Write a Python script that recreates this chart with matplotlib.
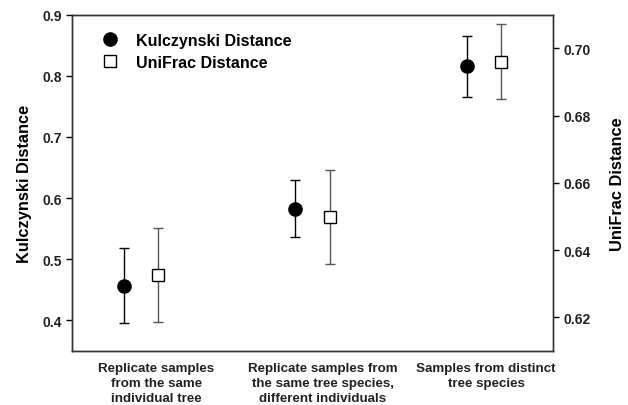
import numpy as np
import matplotlib.pyplot as plt

plt.rcParams['font.family'] = ['Liberation Sans', 'DejaVu Sans']
plt.rcParams['font.weight'] = 'bold'

# groups along the x axis
groups = ["Replicate samples\nfrom the same\nindividual tree",
          "Replicate samples from\nthe same tree species,\ndifferent individuals",
          "Samples from distinct\ntree species"]
group_pos = np.array([1, 2, 3])
label_pos = [1.09, 2.06, 3.01]

# Kulczynski distance (left axis)
kul_mean = [0.457, 0.583, 0.816]
kul_err = [0.061, 0.047, 0.050]

# UniFrac distance (right axis)
uni_mean = [0.6326, 0.6498, 0.6960]
uni_err = [0.0141, 0.0140, 0.0112]

fig = plt.figure(figsize=(6.28, 4.06), dpi=100)
ax = fig.add_axes([0.1146, 0.133, 0.766, 0.8283])
ax2 = ax.twinx()

ax.errorbar(group_pos - 0.1, kul_mean, yerr=kul_err, fmt='o', color='black',
            ms=9.5, ecolor='black', elinewidth=1, capsize=3.8, capthick=1)
ax2.errorbar(group_pos + 0.1, uni_mean, yerr=uni_err, fmt='s', mfc='white',
             mec='black', mew=1, ms=8, ecolor='#555555', elinewidth=1,
             capsize=3.8, capthick=1)

ax.set_xlim(0.6, 3.4)
ax.set_ylim(0.35, 0.9)
ax2.set_ylim(0.61, 0.71)
ax.set_yticks([0.4, 0.5, 0.6, 0.7, 0.8, 0.9])
ax2.set_yticks([0.62, 0.64, 0.66, 0.68, 0.70])
ax2.set_yticklabels(["0.62", "0.64", "0.66", "0.68", "0.70"])

ax.set_xticks(label_pos)
ax.set_xticklabels(groups, fontsize=9.6, fontweight='bold', color='#222222',
                   linespacing=1.33)
ax.tick_params(axis='x', length=0, pad=8)
ax.tick_params(axis='y', direction='out', length=4, width=1, labelsize=10,
               labelcolor='#222222')
ax2.tick_params(axis='y', direction='out', length=4, width=1, labelsize=10,
                labelcolor='#222222')

for a in (ax, ax2):
    for s in a.spines.values():
        s.set_linewidth(1)
        s.set_color('#333333')

ax.set_ylabel("Kulczynski Distance", fontsize=11.8, fontweight='bold', labelpad=7)
ax2.set_ylabel("UniFrac Distance", fontsize=11.8, fontweight='bold', labelpad=14)

h1 = plt.Line2D([], [], marker='o', ls='none', color='black', ms=9.5)
h2 = plt.Line2D([], [], marker='s', ls='none', mfc='white', mec='black', mew=1, ms=8)
ax.legend([h1, h2], ["Kulczynski Distance", "UniFrac Distance"], loc='upper left',
          bbox_to_anchor=(0.051, 0.946), frameon=False, borderpad=0, borderaxespad=0,
          handlelength=1.7, handletextpad=0.75, labelspacing=0.42,
          prop={'size': 11.5, 'weight': 'bold'})

fig.savefig("out.png", dpi=100)
